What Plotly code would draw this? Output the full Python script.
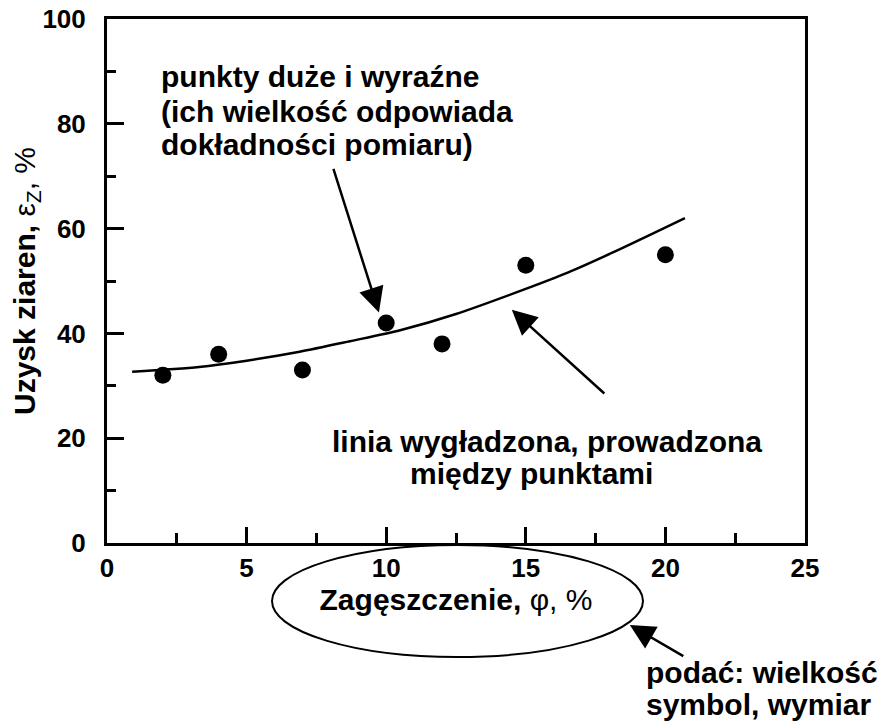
import plotly.graph_objects as go

# Measured points
phi = [2, 4, 7, 10, 12, 15, 20]
eps_z = [32, 36, 33, 42, 38, 53, 55]

# Smoothed line
curve_x = [0.9, 3.3, 5.0, 6.9, 8.7, 10.5, 12.5, 14.9, 16.5, 18.1, 20.7]
curve_y = [32.7, 33.6, 34.8, 36.5, 38.5, 40.6, 43.7, 48.3, 51.6, 55.4, 62.0]

x_ticks = [0, 5, 10, 15, 20, 25]
y_ticks = [0, 20, 40, 60, 80, 100]

FONT = "Liberation Sans, Arial, sans-serif"
TXT = 30

fig = go.Figure()
fig.add_trace(go.Scatter(x=curve_x, y=curve_y, mode="lines",
                         line=dict(color="black", width=2.5, shape="spline", smoothing=0.8),
                         showlegend=False, hoverinfo="skip"))
fig.add_trace(go.Scatter(x=phi, y=eps_z, mode="markers",
                         marker=dict(color="black", size=17),
                         showlegend=False))

axis_common = dict(showgrid=False, zeroline=False, showline=True, linecolor="black",
                   linewidth=3, mirror=True, ticks="inside", tickcolor="black",
                   tickwidth=2.5, automargin=False, ticklabeloverflow="allow",
                   tickfont=dict(family=FONT, size=26, color="black", weight="bold"))

fig.update_xaxes(range=[0, 25], tickvals=x_ticks, ticklen=16, ticklabelstandoff=0,
                 minor=dict(ticks="inside", dtick=2.5, ticklen=10, tickwidth=2.5, tickcolor="black"),
                 title=dict(text="<b>Zagęszczenie,</b> φ, %",
                            font=dict(family=FONT, size=TXT, color="black"), standoff=6),
                 **axis_common)
fig.update_yaxes(range=[0, 100], tickvals=y_ticks, ticklen=17, ticklabelstandoff=13,
                 minor=dict(ticks="inside", dtick=10, ticklen=9, tickwidth=2.5, tickcolor="black"),
                 title=dict(text="<b>Uzysk ziaren,</b> ε<sub>Z</sub>, %",
                            font=dict(family=FONT, size=TXT, color="black"), standoff=5),
                 **axis_common)

def txt(text, x, y, xanchor):
    fig.add_annotation(text="<b>" + text + "</b>", xref="paper", yref="paper", x=x, y=y,
                       xanchor=xanchor, yanchor="middle", showarrow=False,
                       font=dict(family=FONT, size=TXT, color="black"))

txt("punkty duże i wyraźne", 0.0745, 0.8903, "left")
txt("(ich wielkość odpowiada", 0.0745, 0.8235, "left")
txt("dokładności pomiaru)", 0.0745, 0.7605, "left")
txt("linia wygładzona, prowadzona", 0.6299, 0.1937, "center")
txt("między punktami", 0.6085, 0.1326, "center")
txt("podać: wielkość", 0.7693, -0.2471, "left")
txt("symbol, wymiar", 0.7693, -0.3082, "left")

def arrow(x, y, ax, ay, ref="data"):
    xr, yr = ("x", "y") if ref == "data" else ("paper", "paper")
    fig.add_annotation(text="", x=x, y=y, xref=xr, yref=yr, ax=ax, ay=ay,
                       showarrow=True, arrowhead=2, arrowsize=2, arrowwidth=2.5,
                       arrowcolor="black")

arrow(9.74, 44.0, -46, -145)
arrow(14.5, 44.5, 94, 85)
arrow(0.749, -0.1565, 55, 32, ref="paper")

fig.add_shape(type="circle", xref="paper", yref="paper",
              x0=0.2364, x1=0.7679, y0=-0.2176, y1=-0.0038,
              line=dict(color="black", width=2))

fig.update_layout(width=895, height=724, margin=dict(l=99, r=98, t=11, b=189),
                  plot_bgcolor="white", paper_bgcolor="white", showlegend=False)

fig.write_html("out.html")
